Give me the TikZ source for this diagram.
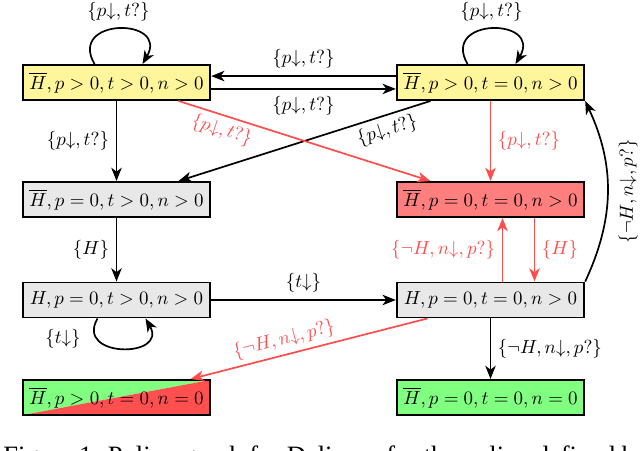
\documentclass[tikz,border=0pt]{standalone}
\usepackage{fontspec}
\newfontfamily\capfont{Liberation Serif}
\usetikzlibrary{arrows.meta}
\definecolor{yelfill}{HTML}{FFF59A}
\definecolor{greyfill}{HTML}{E8E8E8}
\definecolor{redfill}{HTML}{FF7F7F}
\definecolor{greenfill}{HTML}{80FF80}
\definecolor{darkredfill}{HTML}{FF4F4F}
\definecolor{redline}{HTML}{FF4D4D}
\tikzset{
  state/.style={draw, line width=1pt, minimum width=99pt, minimum height=18.5pt, inner sep=0pt},
  arr/.style={-{Stealth[length=7pt,width=5.5pt,inset=2pt]}, line width=0.9pt},
  redarr/.style={arr, draw=redline},
  lbl/.style={inner sep=2.5pt},
  rlbl/.style={lbl, text=redline}
}
\begin{document}
\begin{tikzpicture}[x=0.528pt,y=0.528pt]
\useasboundingbox (0,0) rectangle (640,-451);
\clip (0,0) rectangle (640,-451);
% states
\node[state, fill=yelfill] (n1) at (116.5,-82.5) {$\overline{H}, p>0, t>0, n>0$};
\node[state, fill=yelfill] (n2) at (490.5,-82.5) {$\overline{H}, p>0, t=0, n>0$};
\node[state, fill=greyfill] (n3) at (116.5,-199.5) {$\overline{H}, p=0, t>0, n>0$};
\node[state, fill=redfill] (n4) at (490.5,-199.5) {$\overline{H}, p=0, t=0, n>0$};
\node[state, fill=greyfill] (n5) at (116.5,-300) {$H, p=0, t>0, n>0$};
\node[state, fill=greyfill] (n6) at (490.5,-300) {$H, p=0, t=0, n>0$};
\node[state, path picture={
   \fill[greenfill] (path picture bounding box.south west) -- (path picture bounding box.north west) -- (path picture bounding box.north east) -- cycle;
   \fill[darkredfill] (path picture bounding box.south west) -- (path picture bounding box.north east) -- (path picture bounding box.south east) -- cycle;}]
   (n7) at (116.5,-397.5) {$\overline{H}, p>0, t=0, n=0$};
\node[state, fill=greenfill] (n8) at (490.5,-397.5) {$\overline{H}, p=0, t=0, n=0$};

% self loops
\draw[arr] ([xshift=-22*0.528pt]n1.north) .. controls +(120:54) and +(60:54) .. node[lbl, above=1pt] {$\{p{\downarrow}, t?\}$} ([xshift=26*0.528pt]n1.north);
\draw[arr] ([xshift=-23*0.528pt]n2.north) .. controls +(120:54) and +(60:54) .. node[lbl, above=1pt] {$\{p{\downarrow}, t?\}$} ([xshift=25*0.528pt]n2.north);
\draw[arr] ([xshift=-19*0.528pt]n5.south) .. controls +(-120:46) and +(-60:46) .. ([xshift=29*0.528pt]n5.south);
\node[lbl] (l5) at (63,-339) {$\{t{\downarrow}\}$};

% top pair
\draw[arr] ([yshift=3.4pt]n2.west) -- node[lbl, above=1pt] {$\{p{\downarrow}, t?\}$} ([yshift=3.4pt]n1.east);
\draw[arr] ([yshift=-3.4pt]n1.east) -- node[lbl, below=1pt] {$\{p{\downarrow}, t?\}$} ([yshift=-3.4pt]n2.west);

% downward
\draw[arr] (n1) -- node[lbl, left=1pt] {$\{p{\downarrow}, t?\}$} (n3);
\draw[arr] ([xshift=-60*0.528pt]n2.south) -- node[lbl, sloped, below, pos=0.19] {$\{p{\downarrow}, t?\}$} ([xshift=62*0.528pt]n3.north);
\draw[redarr] ([xshift=62*0.528pt]n1.south) -- node[rlbl, sloped, below, pos=0.19] {$\{p{\downarrow}, t?\}$} ([xshift=-60*0.528pt]n4.north);
\draw[redarr] (n2) -- node[rlbl, right=1pt] {$\{p{\downarrow}, t?\}$} (n4);
\draw[arr] (n3) -- node[lbl, left=1pt] {$\{H\}$} (n5);
\draw[arr] (n5) -- node[lbl, above=1pt] {$\{t{\downarrow}\}$} (n6);
\draw[redarr] ([xshift=12*0.528pt]n6.north) -- node[rlbl, left=1pt] {$\{\neg H, n{\downarrow}, p?\}$} ([xshift=12*0.528pt]n4.south);
\draw[redarr] ([xshift=44*0.528pt]n4.south) -- node[rlbl, right=1pt] {$\{H\}$} ([xshift=44*0.528pt]n6.north);
\draw[arr] (n6.north east) to[out=65, in=-65] node[lbl, midway, anchor=north, rotate=90, inner sep=5.5pt] {$\{\neg H, n{\downarrow}, p?\}$} (n2.south east);
\draw[redarr] ([xshift=-63*0.528pt]n6.south) -- node[rlbl, sloped, above, pos=0.59] {$\{\neg H, n{\downarrow}, p?\}$} ([xshift=74*0.528pt]n7.north);
\draw[arr] (n6) -- node[lbl, right=1pt] {$\{\neg H, n{\downarrow}, p?\}$} (n8);

% caption (cut off by the picture's lower edge)
\node[anchor=base west, inner sep=0pt, font=\capfont\fontsize{14pt}{16pt}\selectfont] (cap) at (3,-464) {Figure 1. Policy graph for Delivery for the policy defined by};
\end{tikzpicture}
\end{document}
